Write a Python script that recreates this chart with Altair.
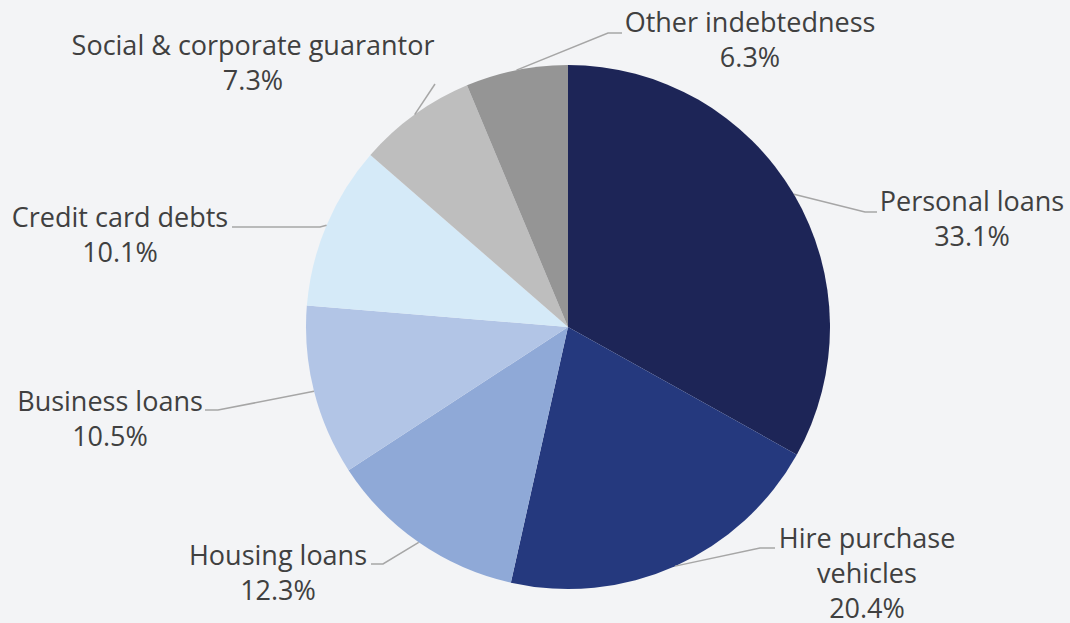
import math
import altair as alt
import pandas as pd

# ---- data ----
categories = ["Personal loans", "Hire purchase vehicles", "Housing loans",
              "Business loans", "Credit card debts",
              "Social & corporate guarantor", "Other indebtedness"]
label_text = ["Personal loans", "Hire purchase\nvehicles", "Housing loans",
              "Business loans", "Credit card debts",
              "Social & corporate guarantor", "Other indebtedness"]
shares = [33.1, 20.4, 12.3, 10.5, 10.1, 7.3, 6.3]
colors = ["#1d2557", "#25397e", "#8fa9d7", "#b2c5e6", "#d5eaf8", "#bebebe", "#959595"]

# ---- layout (pixel offsets from pie centre) ----
W, H = 1070, 623
CX, CY, R = 568, 327, 262
BG = "#f3f4f6"
elbow = [(297, -115), (192, 221), (-185, 237), (-350, 83), (-248, -100), (-133, -243), (40, -294)]
tail = [(309, -115), (207, 221), (-197, 237), (-363, 83), (-336, -100), (-133, -243), (54, -294)]
# centre of first text line
label_pos = [(404, -124), (299, 213), (-290, 230), (-458, 76), (-448, -108), (-315, -280), (182, -303)]

df = pd.DataFrame({"name": categories, "value": shares, "idx": range(len(categories))})

# leader lines: start at slice mid-angle on the rim (from data)
total = sum(shares)
rows = []
labels = []
cum = 0.0
for i, (n, v) in enumerate(zip(categories, shares)):
    mid = (cum + v / 2) / total * 2 * math.pi
    cum += v
    ex, ey = CX + R * math.sin(mid), CY - R * math.cos(mid)
    pts = [(ex, ey), (CX + elbow[i][0], CY + elbow[i][1]), (CX + tail[i][0], CY + tail[i][1])]
    for k, (px, py) in enumerate(pts):
        rows.append({"name": n, "k": k, "px": px, "py": py})
    labels.append({"name": n, "text": label_text[i] + "\n" + f"{v:.1f}%",
                   "px": CX + label_pos[i][0], "py": CY + label_pos[i][1]})
lines_df = pd.DataFrame(rows)
labels_df = pd.DataFrame(labels)

pie = alt.Chart(df).mark_arc(radius=R).encode(
    theta=alt.Theta("value:Q", stack=True),
    order=alt.Order("idx:Q"),
    color=alt.Color("name:N", scale=alt.Scale(domain=categories, range=colors), legend=None),
    x=alt.value(CX),
    y=alt.value(CY),
)

leaders = alt.Chart(lines_df).mark_line(color="#a6a6a6", strokeWidth=1.5).encode(
    x=alt.X("px:Q", scale=None),
    y=alt.Y("py:Q", scale=None),
    detail="name:N",
    order="k:Q",
)

text = alt.Chart(labels_df).mark_text(
    font="Open Sans", fontSize=27, color="#404040", align="center",
    baseline="middle", lineBreak="\n", lineHeight=35,
).encode(
    x=alt.X("px:Q", scale=None),
    y=alt.Y("py:Q", scale=None),
    text="text:N",
)

chart = alt.layer(pie, leaders, text).properties(
    width=W, height=H, padding=0, autosize=alt.AutoSizeParams(type="none"),
    background=BG,
).configure_view(stroke=None)

chart.save("out.html", embed_options={"renderer": "svg", "actions": False})

# full-bleed page: no body margin, matching background, no scrollbars
with open("out.html", encoding="utf-8") as f:
    html = f.read()
html = html.replace(
    "<head>",
    "<head><style>html,body{margin:0;padding:0;background:%s;overflow:hidden;}</style>" % BG,
    1,
)
with open("out.html", "w", encoding="utf-8") as f:
    f.write(html)
